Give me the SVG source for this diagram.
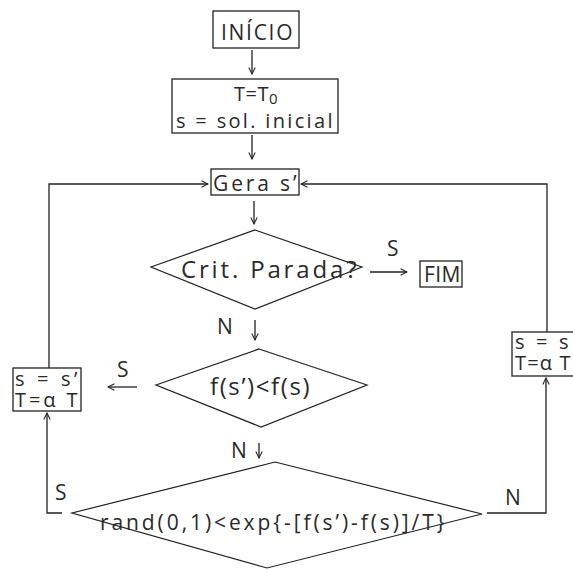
<svg xmlns="http://www.w3.org/2000/svg" width="573" height="570" viewBox="0 0 573 570">
<defs>
<style>
.t{font-family:"Open Sans","DejaVu Sans",sans-serif;font-size:21px;fill:#2a2a2a;letter-spacing:0.5px}
.b{font-size:24px}
.s{font-size:20px}
.box{fill:#fff;stroke:#222;stroke-width:1.3}
.dia{fill:none;stroke:#222;stroke-width:1.2}
.ln{fill:none;stroke:#222;stroke-width:1.3}
</style>
<marker id="ah" viewBox="0 0 10 10" refX="9" refY="5" markerWidth="8" markerHeight="8" markerUnits="userSpaceOnUse" orient="auto">
<path d="M1,1 L9,5 L1,9" fill="none" stroke="#222" stroke-width="1.3"/>
</marker>
</defs>
<rect width="573" height="570" fill="#fff"/>
<g id="connectors">
<line class="ln" x1="252" y1="50" x2="252" y2="74" marker-end="url(#ah)"/>
<line class="ln" x1="252" y1="135" x2="252" y2="159" marker-end="url(#ah)"/>
<line class="ln" x1="254" y1="201" x2="254" y2="224" marker-end="url(#ah)"/>
<line class="ln" x1="370" y1="272" x2="407" y2="272" marker-end="url(#ah)"/>
<line class="ln" x1="255" y1="320" x2="255" y2="340" marker-end="url(#ah)"/>
<line class="ln" x1="137" y1="387" x2="108" y2="387" marker-end="url(#ah)"/>
<line class="ln" x1="259" y1="443" x2="259" y2="458" marker-end="url(#ah)"/>
<polyline class="ln" points="49,368 49,184 208,184" marker-end="url(#ah)"/>
<polyline class="ln" points="62,513 47,513 47,413" marker-end="url(#ah)"/>
<polyline class="ln" points="487,513 546,513 546,378" marker-end="url(#ah)"/>
<polyline class="ln" points="547,332 547,184 301,184" marker-end="url(#ah)"/>
<text class="t" x="387" y="256">S</text>
<text class="t" x="217" y="334">N</text>
<text class="t" x="117" y="377">S</text>
<text class="t" x="231" y="458">N</text>
<text class="t" x="55" y="500">S</text>
<text class="t" x="505" y="505">N</text>
</g>
<g id="inicio">
<rect class="box" x="213" y="11" width="86" height="37"/>
<text class="t" x="221" y="40" textLength="72" lengthAdjust="spacing">INÍCIO</text>
</g>
<g id="init">
<rect class="box" x="172" y="79" width="166" height="54"/>
<text class="t s" x="234" y="101">T=T<tspan font-size="15" dy="3">0</tspan></text>
<text class="t s" x="176" y="128" textLength="157" lengthAdjust="spacing">s = sol. inicial</text>
</g>
<g id="gera">
<rect class="box" x="211" y="169" width="88" height="26"/>
<text class="t" x="213" y="191" font-size="23" textLength="84" lengthAdjust="spacing">Gera s’</text>
</g>
<g id="crit">
<polygon class="dia" points="255,230 362,267 255,309 151,267"/>
<text class="t b" x="181" y="278" textLength="176" lengthAdjust="spacing">Crit. Parada?</text>
</g>
<g id="fim">
<rect class="box" x="420" y="261" width="42" height="26"/>
<text class="t" x="424" y="282" textLength="37" lengthAdjust="spacing">FIM</text>
</g>
<g id="fcmp">
<polygon class="dia" points="259,349 367,385 261,427 156,385"/>
<text class="t b" x="210" y="395" textLength="100" lengthAdjust="spacing">f(s’)&lt;f(s)</text>
</g>
<g id="accept-left">
<rect class="box" x="13" y="368" width="68" height="43"/>
<text class="t s" x="15" y="386" textLength="63" lengthAdjust="spacing">s = s’</text>
<text class="t s" x="15" y="407" textLength="63" lengthAdjust="spacing">T=α T</text>
</g>
<g id="rand">
<polygon class="dia" points="275,462 482,514 267,568 72,513"/>
<text class="t" x="100" y="530" font-size="23" textLength="345" lengthAdjust="spacing">rand(0,1)&lt;exp{-[f(s’)-f(s)]/T}</text>
</g>
<g id="accept-right">
<rect class="box" x="512" y="332" width="80" height="44"/>
<text class="t s" x="515" y="349" textLength="54" lengthAdjust="spacing">s = s</text>
<text class="t s" x="515" y="370" textLength="56" lengthAdjust="spacing">T=α T</text>
</g>
</svg>
